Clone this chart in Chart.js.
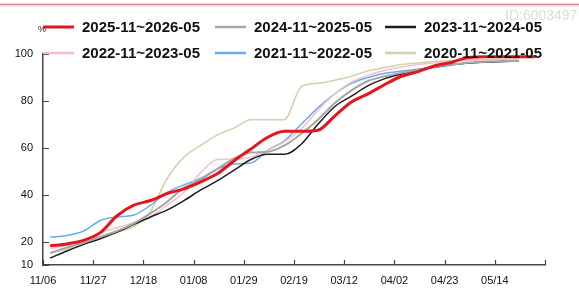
<!DOCTYPE html>
<html>
<head>
<meta charset="utf-8">
<script src="https://cdn.jsdelivr.net/npm/chart.js@4.4.1/dist/chart.umd.min.js"></script>
<style>
html, body { margin: 0; padding: 0; background: #fff; }
</style>
</head>
<body>
<canvas id="chart" width="579" height="288"></canvas>
<script>
// days counted from 11/06
const days = [3, 10, 17, 24, 31, 38, 45, 52, 59, 66, 73, 80, 87, 94, 101, 108, 115, 122, 129, 136, 143, 150, 157, 164, 171, 178, 185, 192, 199, 206];

const seriesNames = ["2025-11~2026-05", "2024-11~2025-05", "2023-11~2024-05", "2022-11~2023-05", "2021-11~2022-05", "2020-11~2021-05"];

const s2526 = [18.2, 19.0, 20.5, 23.8, 31.0, 35.5, 37.5, 40.5, 42.5, 45.5, 49, 54.5, 59.5, 64.5, 67, 67, 67.5, 73.5, 79.5, 83, 87, 90.5, 92.5, 95, 96.5, 98.5, 98.8, 98.8, 98.8, 98.8];
const s2425 = [15.1, 17.5, 19.5, 22, 24.5, 27.8, 32, 37, 43, 46.5, 51, 55.5, 58, 58.3, 61, 66, 72, 79, 84.5, 88.5, 90.5, 92, 93.3, 94.5, 95.5, 96.3, 96.7, 96.9, 97];
const s2324 = [13, 16, 18.8, 21.2, 24, 27.3, 30.5, 33.5, 37.5, 42, 46, 50.5, 55, 57.2, 57.2, 61.5, 70, 77.5, 82, 86.5, 89.5, 91.5, 93.3, 94.5, 95.5, 96.2, 96.6, 96.8, 97];
const s2223 = [17, 18.5, 20.8, 23.8, 26, 28, 30.7, 35.5, 41, 49.5, 55, 55.2, 56, 59, 62.5, 68, 76, 83, 88, 91, 93, 94.5, 95.5, 96.3, 96.8, 97.2, 97.4, 97.5, 97.5];
const s2122 = [21.9, 22.6, 24.5, 29, 30.5, 31.3, 35.5, 41, 44.2, 47, 51, 53.1, 53.5, 59, 63, 70, 77, 83, 87.5, 90, 91.8, 92.7, 93.5, 94.2, 95.3, 96.2, 96.5, 96.8, 97];
const s2021 = [15, 16.8, 18.8, 21.5, 24, 26.5, 33, 47, 56, 61, 65.5, 68.5, 72, 72, 72, 86, 87.5, 88.8, 90.5, 92.8, 94.2, 95.5, 96.2, 96.8, 97.2, 97.5, 97.6, 97.7, 97.8];

const xTickDays   = [0, 21, 42, 63, 84, 105, 126, 147, 168, 189, 210];
const xTickLabels = ["11/06", "11/27", "12/18", "01/08", "01/29", "02/19", "03/12", "04/02", "04/23", "05/14", ""];
const yTicks      = [10, 20, 40, 60, 80, 100];

const colors = ["#e3161e", "#a6a6a6", "#1e1e1e", "#f4c2c4", "#6aaaf0", "#d4cfac"];
const widths = [3, 2, 1.5, 1.5, 1.5, 1.5];

function toPoints(vals)
{
    return vals.map((v, i) => ({ x: days[i], y: v }));
}

const allSeries = [s2526, s2425, s2324, s2223, s2122, s2021];

let datasets = [];
for (let i = 0; i < allSeries.length; i++)
{
    datasets.push({
        label: seriesNames[i],
        data: toPoints(allSeries[i]),
        borderColor: colors[i],
        backgroundColor: colors[i],
        borderWidth: widths[i],
        pointRadius: 0,
        cubicInterpolationMode: "monotone",
        fill: false
    });
}

// header line, watermark, legend, "%" and the inner tick marks
const decorations = {
    id: "decorations",
    beforeDraw(chart) {
        const ctx = chart.ctx;
        ctx.save();
        ctx.fillStyle = "#fff";
        ctx.fillRect(0, 0, chart.width, chart.height);
        ctx.fillStyle = "#f3d3d5";
        ctx.fillRect(0, 3, chart.width, 1);
        ctx.fillStyle = "#d98c93";
        ctx.fillRect(0, 4, chart.width, 1.5);
        ctx.fillStyle = "#f3dada";
        ctx.fillRect(0, 5.5, chart.width, 1);
        ctx.font = "14px 'Liberation Sans'";
        ctx.fillStyle = "#dcdcdc";
        ctx.textBaseline = "alphabetic";
        ctx.fillText("ID:6003497", 505, 20);
        ctx.restore();
    },
    afterDatasetsDraw(chart) {
        const ctx = chart.ctx;
        const xs = chart.scales.x, ys = chart.scales.y;
        ctx.save();
        ctx.strokeStyle = "#444";
        ctx.lineWidth = 1.2;
        ctx.beginPath();
        ys.ticks.forEach((t) => {
            const y = Math.round(ys.getPixelForValue(t.value)) + 0.5;
            ctx.moveTo(xs.left, y);
            ctx.lineTo(xs.left + 6, y);
        });
        xs.ticks.forEach((t) => {
            const x = Math.round(xs.getPixelForValue(t.value)) + 0.5;
            ctx.moveTo(x, ys.bottom);
            ctx.lineTo(x, ys.bottom - 5);
        });
        ctx.stroke();

        ctx.font = "9px 'Liberation Sans'";
        ctx.fillStyle = "#222";
        ctx.textBaseline = "middle";
        ctx.fillText("%", 38, 30);

        const colX = [43, 215, 385];
        const rowY = [27, 53];
        ctx.font = "bold 15px 'Liberation Sans'";
        chart.data.datasets.forEach((ds, i) => {
            const x = colX[i % 3], y = rowY[Math.floor(i / 3)];
            ctx.strokeStyle = ds.borderColor;
            ctx.lineWidth = i == 0 ? 3 : 2.5;
            ctx.beginPath();
            ctx.moveTo(x, y);
            ctx.lineTo(x + 31, y);
            ctx.stroke();
            ctx.fillStyle = "#111";
            ctx.fillText(ds.label, x + 39, y + 1);
        });
        ctx.restore();
    }
};

const chart = new Chart(document.getElementById("chart"), {
    type: "line",
    data: { datasets: datasets },
    options: {
        responsive: false,
        animation: false,
        devicePixelRatio: 1,
        layout: { padding: { left: 0, right: 34, top: 54, bottom: 0 } },
        plugins: {
            legend: { display: false },
            tooltip: { enabled: false }
        },
        scales: {
            x: {
                type: "linear",
                min: 0,
                max: 210,
                afterBuildTicks: (s) => { s.ticks = xTickDays.map((v) => ({ value: v })); },
                afterFit: (s) => { s.height = 23; },
                grid: { display: false, drawTicks: false },
                border: { color: "#444", width: 1.5 },
                ticks: {
                    autoSkip: false,
                    maxRotation: 0,
                    padding: 9,
                    color: "#111",
                    font: { family: "Liberation Sans", size: 11 },
                    callback: (v) => xTickLabels[xTickDays.indexOf(v)]
                }
            },
            y: {
                min: 10,
                max: 100,
                afterBuildTicks: (s) => { s.ticks = yTicks.map((v) => ({ value: v })); },
                afterFit: (s) => { s.width = 43; },
                grid: { display: false, drawTicks: false },
                border: { color: "#444", width: 1.5 },
                ticks: {
                    padding: 10,
                    color: "#111",
                    font: { family: "Liberation Sans", size: 11 }
                }
            }
        }
    },
    plugins: [decorations]
});
</script>
</body>
</html>
